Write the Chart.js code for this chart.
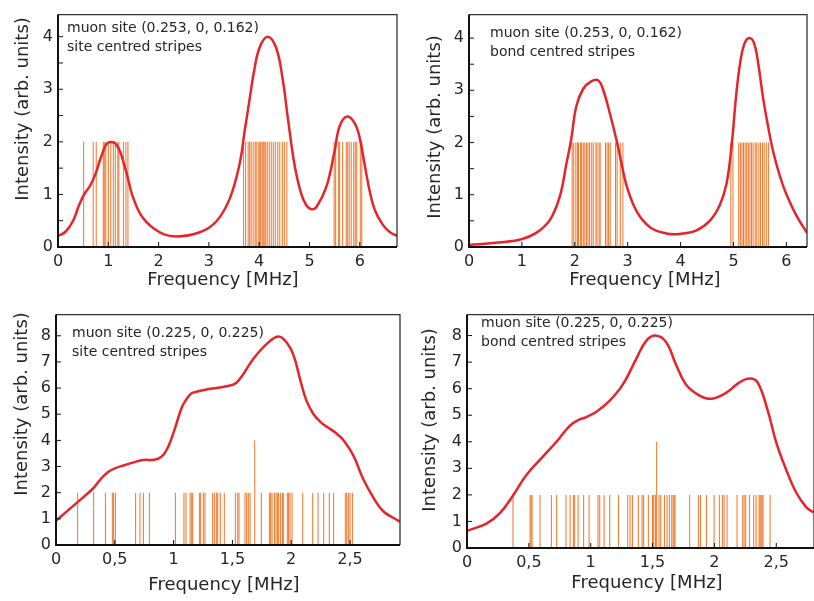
<!DOCTYPE html>
<html>
<head>
<meta charset="utf-8">
<script src="https://cdn.jsdelivr.net/npm/chart.js@4.4.1/dist/chart.umd.min.js"></script>
<style>
  html, body { margin: 0; padding: 0; background: #fff; }
  .panel { position: absolute; }
</style>
</head>
<body>
<div class="panel" style="left:0;top:0;width:407px;height:300px"><canvas id="chartA"></canvas></div>
<div class="panel" style="left:410px;top:0;width:404px;height:300px"><canvas id="chartB"></canvas></div>
<div class="panel" style="left:0;top:300px;width:407px;height:301px"><canvas id="chartC"></canvas></div>
<div class="panel" style="left:410px;top:300px;width:404px;height:301px"><canvas id="chartD"></canvas></div>
<script>
// Simulated muon precession spectra: frequency in MHz, intensity in arb. units.
// Each stick is one muon site frequency; the smooth curve is the broadened sum.

const STICK = 2

// (0.253, 0, 0.162), site centred stripes
const aCurveF = [0, 0.15, 0.30, 0.42, 0.52, 0.64, 0.75, 0.86, 0.99, 1.16, 1.33, 1.49, 1.69, 2.02, 2.35, 2.82, 3.15, 3.41, 3.61, 3.71, 3.80, 3.90, 4.01, 4.17, 4.34, 4.47, 4.57, 4.70, 4.83, 4.94, 5.04, 5.14, 5.34, 5.50, 5.60, 5.75, 5.90, 6.00, 6.10, 6.20, 6.30, 6.46, 6.60, 6.74]
const aCurveI = [0.21, 0.29, 0.50, 0.80, 1.00, 1.17, 1.40, 1.72, 1.98, 1.95, 1.52, 0.95, 0.55, 0.28, 0.20, 0.28, 0.49, 0.91, 1.58, 2.20, 2.75, 3.35, 3.80, 4.00, 3.78, 3.17, 2.45, 1.58, 1.03, 0.79, 0.72, 0.76, 1.16, 1.83, 2.30, 2.48, 2.35, 2.07, 1.55, 1.05, 0.70, 0.42, 0.28, 0.21]
const aSticks = [0.51, 0.70, 0.76, 0.90, 0.92, 0.95, 1.00, 1.05, 1.10, 1.14, 1.19, 1.21, 1.30, 1.35, 1.39,
  3.69, 3.73, 3.78, 3.81, 3.84, 3.88, 3.92, 3.94, 3.98, 4.01, 4.03, 4.06, 4.08, 4.10, 4.13, 4.16, 4.20, 4.24, 4.28, 4.32, 4.37, 4.41, 4.46, 4.50, 4.55,
  5.49, 5.52, 5.58, 5.60, 5.66, 5.73, 5.76, 5.79, 5.83, 5.88, 5.91, 5.94, 6.01, 6.04]

// (0.253, 0, 0.162), bond centred stripes
const bCurveF = [0, 0.50, 0.99, 1.27, 1.53, 1.72, 1.84, 1.93, 2.03, 2.16, 2.31, 2.44, 2.53, 2.66, 2.80, 2.88, 2.98, 3.17, 3.42, 3.73, 3.98, 4.30, 4.55, 4.74, 4.87, 4.97, 5.05, 5.13, 5.21, 5.30, 5.39, 5.47, 5.56, 5.65, 5.75, 5.88, 6.00, 6.19, 6.39]
const bCurveI = [0.04, 0.08, 0.15, 0.27, 0.52, 0.98, 1.59, 2.05, 2.70, 3.03, 3.17, 3.19, 3.03, 2.57, 2.00, 1.62, 1.17, 0.68, 0.38, 0.26, 0.25, 0.32, 0.50, 0.80, 1.22, 2.00, 2.90, 3.55, 3.90, 4.00, 3.90, 3.50, 2.85, 2.33, 1.83, 1.35, 1.01, 0.60, 0.27]
const bSticks = [1.95, 1.98, 2.02, 2.05, 2.07, 2.11, 2.13, 2.16, 2.19, 2.22, 2.25, 2.28, 2.32, 2.35, 2.40, 2.42, 2.46, 2.48, 2.58, 2.61, 2.64, 2.67, 2.77, 2.80, 2.86, 2.91,
  4.95, 4.99, 5.10, 5.13, 5.16, 5.19, 5.22, 5.25, 5.28, 5.31, 5.34, 5.37, 5.41, 5.44, 5.48, 5.51, 5.55, 5.58, 5.62, 5.66]

// (0.225, 0, 0.225), site centred stripes
const cCurveF = [0, 0.176, 0.317, 0.38, 0.44, 0.50, 0.58, 0.66, 0.743, 0.856, 0.927, 0.998, 1.07, 1.11, 1.15, 1.20, 1.28, 1.45, 1.54, 1.68, 1.79, 1.89, 1.96, 2.02, 2.08, 2.13, 2.19, 2.25, 2.31, 2.38, 2.44, 2.53, 2.61, 2.70, 2.78, 2.87, 2.925]
const cCurveI = [0.93, 1.61, 2.17, 2.52, 2.78, 2.93, 3.05, 3.16, 3.25, 3.28, 3.53, 4.28, 5.27, 5.58, 5.79, 5.87, 5.95, 6.07, 6.23, 7.13, 7.68, 7.97, 7.75, 7.25, 6.26, 5.51, 5.00, 4.70, 4.50, 4.28, 4.03, 3.41, 2.54, 1.80, 1.30, 1.03, 0.89]
const cSticks = [0.184, 0.32, 0.42, 0.479, 0.49, 0.505, 0.677, 0.714, 0.743, 0.794, 1.015, 1.088, 1.105, 1.14, 1.154, 1.162, 1.219, 1.23, 1.253, 1.267,
  1.332, 1.346, 1.363, 1.375, 1.397, 1.431, 1.525, 1.545, 1.556, 1.607, 1.621, 1.635, 1.65, 1.746, 1.814, 1.825, 1.837, 1.857, 1.871, 1.882,
  1.893, 1.91, 1.925, 1.933, 1.967, 1.978, 1.99, 2.007, 2.098, 2.183, 2.228, 2.276, 2.324, 2.361, 2.46, 2.472, 2.486, 2.5, 2.52]
const cDouble = [1.69]

// (0.225, 0, 0.225), bond centred stripes
const dCurveF = [0, 0.157, 0.264, 0.372, 0.48, 0.615, 0.723, 0.83, 0.90, 0.96, 1.046, 1.154, 1.26, 1.37, 1.45, 1.525, 1.61, 1.69, 1.77, 1.88, 1.976, 2.10, 2.20, 2.285, 2.35, 2.43, 2.50, 2.58, 2.66, 2.74, 2.80]
const dCurveI = [0.65, 0.92, 1.30, 1.98, 2.75, 3.45, 4.00, 4.60, 4.82, 4.92, 5.13, 5.55, 6.16, 7.14, 7.81, 8.00, 7.75, 6.90, 6.16, 5.74, 5.62, 5.86, 6.23, 6.38, 6.23, 5.19, 3.97, 2.95, 2.10, 1.55, 1.34]
const dSticks = [0.372, 0.51, 0.518, 0.526, 0.59, 0.682, 0.725, 0.80, 0.833, 0.86, 0.871, 0.898, 0.943, 0.987, 1.059, 1.073, 1.108, 1.154, 1.224, 1.299,
  1.318, 1.337, 1.385, 1.415, 1.428, 1.466, 1.499, 1.509, 1.523, 1.552, 1.566, 1.596, 1.617, 1.636, 1.655, 1.666, 1.674, 1.682, 1.80, 1.87,
  1.887, 1.935, 1.997, 2.04, 2.064, 2.078, 2.102, 2.183, 2.229, 2.24, 2.253, 2.283, 2.318, 2.337, 2.361, 2.369, 2.377, 2.385, 2.393, 2.45]
const dDouble = [1.533]

// tick labels
const xTicksWide = [0, 1, 2, 3, 4, 5, 6]
const xTicksNarrow = [0, 0.5, 1, 1.5, 2, 2.5]
const yTicksLow = [0, 1, 2, 3, 4]
const yTicksHigh = [0, 1, 2, 3, 4, 5, 6, 7, 8]

const FONT = '"DejaVu Sans", sans-serif'
const INK = '#262626'
const RED = '#e6242b'
const ORANGE = '#ee7529'

// frame, inward tick marks, axis titles and the site notes
const panelDeco = {
  id: 'panelDeco',
  afterDatasetsDraw(chart, args, p) {
    const { ctx, chartArea: a } = chart
    const xs = chart.scales.x, ys = chart.scales.y
    ctx.save()
    ctx.strokeStyle = '#111'
    ctx.lineWidth = 1
    ctx.beginPath()
    p.xTicks.forEach((v) => {
      const px = xs.getPixelForValue(v)
      ctx.moveTo(px, a.bottom); ctx.lineTo(px, a.bottom - 5)
    })
    for (let v = p.yMinor; v < p.yMax; v += p.yMinor) {
      const py = ys.getPixelForValue(v)
      ctx.moveTo(a.left, py); ctx.lineTo(a.left + 5, py)
    }
    ctx.stroke()

    ctx.strokeStyle = '#333'
    ctx.lineWidth = 1.3
    ctx.beginPath()
    ctx.moveTo(a.left, a.top); ctx.lineTo(a.right, a.top); ctx.lineTo(a.right, a.bottom)
    ctx.stroke()
    ctx.strokeStyle = '#111'
    ctx.lineWidth = 2
    ctx.beginPath()
    ctx.moveTo(a.left, a.top); ctx.lineTo(a.left, a.bottom); ctx.lineTo(a.right, a.bottom)
    ctx.stroke()

    ctx.fillStyle = INK
    ctx.textBaseline = 'middle'
    ctx.font = '18px ' + FONT
    ctx.textAlign = 'center'
    ctx.fillText('Frequency [MHz]', p.xTitle[0], p.xTitle[1])
    ctx.save()
    ctx.translate(p.yTitle[0], p.yTitle[1])
    ctx.rotate(-Math.PI / 2)
    ctx.fillText('Intensity (arb. units)', 0, 0)
    ctx.restore()

    ctx.font = '14px ' + FONT
    ctx.textAlign = 'left'
    p.notes.forEach((t, i) => ctx.fillText(t, p.noteAt[0], p.noteAt[1] + i * 19.5))
    ctx.restore()
  },
}

function makePanel(id, p) {
  const curve = p.curveF.map((f, i) => ({ x: f, y: p.curveI[i] }))
  const sticks = p.sticks.map((f) => ({ x: f, y: STICK }))
    .concat((p.double || []).map((f) => ({ x: f, y: 2 * STICK })))
  return new Chart(document.getElementById(id), {
    type: 'line',
    data: {
      datasets: [
        { type: 'line', data: curve, borderColor: RED, borderWidth: 2.5, pointRadius: 0,
          tension: 0.4, order: 0 },
        { type: 'bar', data: sticks, backgroundColor: ORANGE, borderWidth: 0, barThickness: 1,
          inflateAmount: 0, order: 1 },
      ],
    },
    options: {
      responsive: true,
      maintainAspectRatio: false,
      animation: false,
      events: [],
      layout: { padding: { top: p.padTop, right: p.padRight, left: 0, bottom: 0 } },
      plugins: { legend: { display: false }, tooltip: { enabled: false }, panelDeco: p },
      scales: {
        x: {
          type: 'linear', min: 0, max: p.xMax, offset: false,
          grid: { display: false, drawTicks: false }, border: { display: false },
          afterBuildTicks: (s) => { s.ticks = p.xTicks.map((v) => ({ value: v })) },
          afterFit: (s) => { s.height = p.xAxisH },
          ticks: { padding: 5, color: INK, maxRotation: 0, autoSkip: false,
            font: { family: FONT, size: 16 },
            callback: (v) => String(v).replace('.', ',') },
        },
        y: {
          type: 'linear', min: 0, max: p.yMax,
          grid: { display: false, drawTicks: false }, border: { display: false },
          afterBuildTicks: (s) => { s.ticks = p.yTicks.map((v) => ({ value: v })) },
          afterFit: (s) => { s.width = p.yAxisW },
          ticks: { padding: 5, color: INK, autoSkip: false, font: { family: FONT, size: 16 } },
        },
      },
    },
    plugins: [panelDeco],
  })
}

makePanel('chartA', {
  curveF: aCurveF, curveI: aCurveI, sticks: aSticks,
  xMax: 6.74, yMax: 4.42, xTicks: xTicksWide, yTicks: yTicksLow, yMinor: 0.5,
  yAxisW: 58, xAxisH: 53, padTop: 5, padRight: 10,
  xTitle: [223, 280], yTitle: [23, 109],
  notes: ['muon site (0.253, 0, 0.162)', 'site centred stripes'], noteAt: [67, 28],
})
makePanel('chartB', {
  curveF: bCurveF, curveI: bCurveI, sticks: bSticks,
  xMax: 6.39, yMax: 4.45, xTicks: xTicksWide, yTicks: yTicksLow, yMinor: 0.5,
  yAxisW: 59, xAxisH: 53, padTop: 5, padRight: 7,
  xTitle: [235, 280], yTitle: [25, 127],
  notes: ['muon site (0.253, 0, 0.162)', 'bond centred stripes'], noteAt: [80, 33],
})
makePanel('chartC', {
  curveF: cCurveF, curveI: cCurveI, sticks: cSticks, double: cDouble,
  xMax: 2.925, yMax: 8.81, xTicks: xTicksNarrow, yTicks: yTicksHigh, yMinor: 1,
  yAxisW: 56, xAxisH: 56, padTop: 8, padRight: 7,
  xTitle: [224, 285], yTitle: [22, 104],
  notes: ['muon site (0.225, 0, 0.225)', 'site centred stripes'], noteAt: [72, 33],
})
makePanel('chartD', {
  curveF: dCurveF, curveI: dCurveI, sticks: dSticks, double: dDouble,
  xMax: 2.805, yMax: 8.79, xTicks: xTicksNarrow, yTicks: yTicksHigh, yMinor: 1,
  yAxisW: 57, xAxisH: 53, padTop: 8, padRight: 0,
  xTitle: [237, 283], yTitle: [20, 120],
  notes: ['muon site (0.225, 0, 0.225)', 'bond centred stripes'], noteAt: [71, 23],
})
</script>
</body>
</html>
